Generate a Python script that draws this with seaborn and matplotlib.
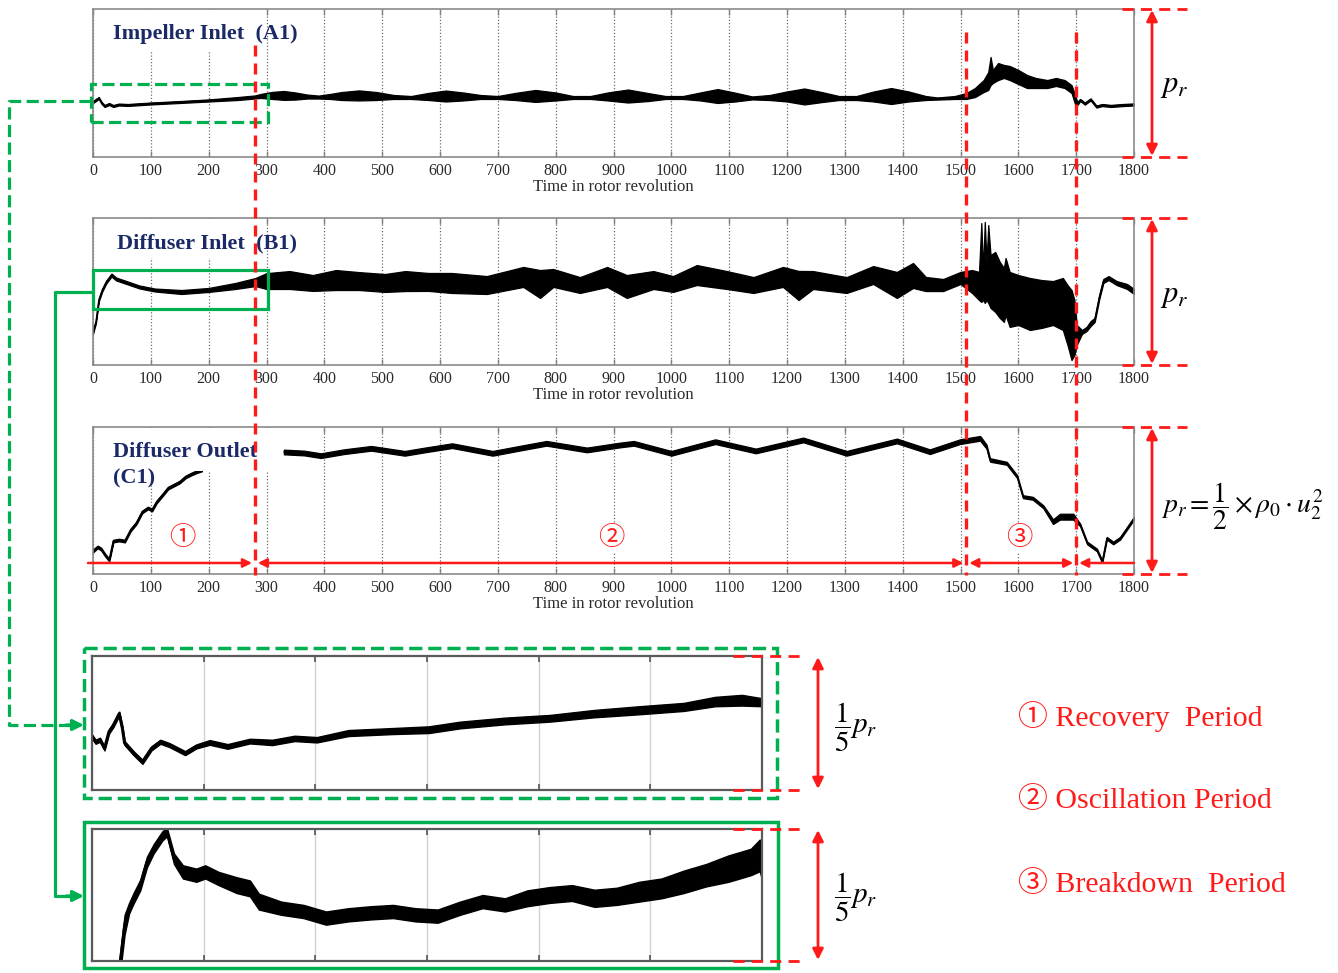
import numpy as np
import matplotlib
matplotlib.use("Agg")
import matplotlib.pyplot as plt
import matplotlib.transforms as mtransforms
from matplotlib.patches import Rectangle, FancyArrowPatch
from matplotlib.lines import Line2D
import seaborn as sns

# ---------------------------------------------------------------------------
# Pressure traces (values in % of the reference pressure p_r),
# time in rotor revolutions.
# ---------------------------------------------------------------------------

# Impeller inlet (A1): lower / upper envelope of the fluctuating signal
a_t = [0, 5, 10, 15, 20, 28, 35, 45, 60, 100, 150, 200, 250, 280, 290, 310, 330, 350,
       370, 390, 410, 430, 460, 490, 520, 550, 580, 610, 640, 670, 700, 730, 765, 800,
       830, 860, 890, 925, 960, 990, 1020, 1050, 1080, 1110, 1140, 1170, 1200, 1230,
       1260, 1290, 1320, 1350, 1380, 1410, 1440, 1460, 1490, 1510, 1525, 1540, 1548,
       1552, 1556, 1565, 1575, 1585, 1600, 1615, 1630, 1650, 1665, 1680, 1692, 1698,
       1702, 1707, 1715, 1725, 1735, 1745, 1760, 1780, 1800]
a_lo = [36.5, 37.8, 39.2, 35.8, 33.8, 35.1, 33.8, 34.8, 34.5, 35.5, 36.5, 37.5, 38.5,
        39.5, 39.9, 39.2, 38.6, 38.8, 39.5, 39.5, 39.2, 38.5, 38.2, 38.5, 39.2, 39.2,
        38.5, 37.5, 38.2, 39.2, 39.2, 38.5, 37.2, 38.2, 39.2, 39.2, 38.2, 36.8, 37.8,
        39.2, 39.2, 38.2, 36.5, 37.5, 38.9, 38.5, 37.5, 35.5, 37.1, 38.5, 38.5, 37.5,
        35.8, 37.5, 38.5, 38.8, 39.2, 39.2, 40.5, 43.9, 45.3, 48.6, 50.0, 52.0, 53.4,
        52.0, 49.3, 46.6, 46.6, 46.6, 48.0, 46.6, 43.2, 35.8, 35.1, 37.8, 35.4, 38.2,
        33.4, 34.4, 33.8, 34.4, 34.8]
a_hi = [37.8, 39.2, 40.5, 37.2, 35.1, 36.5, 35.1, 36.1, 35.8, 36.8, 37.8, 38.9, 40.5,
        41.6, 42.6, 44.0, 44.6, 43.6, 42.2, 41.5, 42.6, 43.9, 45.0, 43.9, 41.9, 41.2,
        43.3, 44.9, 43.6, 41.9, 41.2, 43.3, 45.3, 43.6, 41.2, 41.2, 43.6, 45.6, 43.2,
        41.2, 41.2, 43.6, 45.9, 43.5, 40.9, 41.9, 44.3, 46.3, 43.9, 41.2, 41.2, 44.3,
        46.6, 44.3, 41.2, 40.2, 41.2, 43.2, 46.6, 52.0, 57.4, 67.6, 58.8, 63.5, 62.2,
        61.5, 58.8, 55.4, 53.4, 52.0, 53.4, 52.0, 48.6, 41.9, 37.2, 39.2, 36.8, 39.6,
        34.8, 35.8, 35.2, 35.8, 36.2]

# Diffuser inlet (B1): lower / upper envelope
b_t = [0, 5, 10, 16, 23, 32, 40, 55, 80, 107, 153, 200, 246, 281, 300, 340, 380, 420,
       460, 505, 540, 580, 620, 681, 744, 773, 796, 842, 889, 923, 969, 1003, 1044,
       1096, 1142, 1193, 1220, 1245, 1303, 1349, 1390, 1418, 1440, 1470, 1500, 1520,
       1532, 1536, 1539, 1542, 1545, 1548, 1552, 1560, 1568, 1575, 1578, 1585, 1600,
       1620, 1640, 1660, 1677, 1685, 1692, 1697, 1701, 1710, 1718, 1725, 1732, 1740,
       1747, 1756, 1770, 1788, 1800]
b_lo = [21.4, 28.3, 43.2, 50.0, 55.5, 60.2, 57.5, 55.5, 52.1, 50.0, 48.3, 49.7, 51.7,
        53.7, 51.7, 51.7, 50.4, 51.0, 51.0, 49.7, 50.3, 50.4, 49.0, 48.3, 53.1, 45.6,
        53.1, 49.0, 53.1, 45.6, 51.7, 49.7, 54.4, 51.7, 49.0, 53.1, 44.2, 51.7, 49.0,
        55.1, 45.6, 52.4, 50.3, 50.3, 55.1, 49.0, 44.2, 42.9, 44.2, 42.2, 44.2, 42.2,
        38.8, 36.1, 32.0, 29.3, 34.0, 25.9, 27.2, 23.8, 25.2, 27.2, 23.8, 13.6, 3.4,
        6.8, 13.6, 21.1, 23.1, 26.5, 29.3, 44.9, 55.8, 57.8, 54.4, 51.7, 48.3]
b_hi = [23.5, 30.3, 45.2, 52.0, 57.5, 62.2, 59.5, 57.5, 54.1, 52.0, 51.0, 52.4, 55.8,
        59.2, 62.5, 63.9, 61.2, 64.6, 63.2, 61.9, 63.9, 62.6, 62.6, 60.5, 66.7, 64.6,
        65.3, 59.8, 66.7, 61.2, 63.9, 60.5, 68.0, 63.9, 59.8, 66.7, 64.0, 63.9, 59.8,
        67.3, 63.3, 69.4, 59.9, 58.5, 63.3, 64.6, 63.3, 96.6, 64.6, 97.3, 70.1, 95.2,
        74.8, 76.9, 70.1, 66.0, 72.8, 63.3, 61.2, 59.2, 57.8, 57.1, 59.2, 54.4, 51.0,
        44.2, 27.2, 23.8, 25.9, 29.9, 32.0, 47.6, 58.5, 60.5, 57.1, 55.1, 51.7]

# Diffuser outlet (C1): start-up record (envelope) and main record (mean, half-spread)
c1_t = [0, 8, 14, 21, 28, 35, 45, 55, 65, 75, 85, 95, 102, 110, 120, 130, 140, 150,
        160, 170, 180, 188]
c1_lo = [14.8, 17.6, 16.2, 12.1, 8.7, 21.6, 22.3, 21.6, 29.1, 33.9, 41.4, 44.1, 42.7,
         48.2, 52.9, 57.7, 59.7, 61.8, 65.2, 67.2, 68.9, 69.9]
c1_hi = [16.4, 19.2, 17.8, 13.7, 10.3, 23.2, 23.9, 23.2, 30.7, 35.5, 43.0, 45.7, 44.3,
         49.8, 54.5, 59.3, 61.3, 63.4, 66.8, 68.8, 70.5, 71.5]
c2_t = [330, 365, 394, 434, 481, 539, 574, 621, 691, 737, 784, 854, 912, 935, 1000,
        1076, 1146, 1228, 1303, 1390, 1447, 1499, 1534, 1545, 1551, 1580, 1598, 1608,
        1625, 1643, 1660, 1672, 1695, 1707, 1719, 1736, 1745, 1753, 1764, 1776, 1788,
        1800]
c2_mean = [83.0, 82.3, 80.5, 83.2, 85.5, 82.1, 84.4, 87.3, 82.1, 85.5, 88.9, 84.4, 87.8,
           88.9, 82.1, 90.0, 83.7, 91.2, 82.1, 90.5, 83.2, 90.0, 92.3, 86.6, 77.6, 75.3,
           66.2, 52.6, 51.5, 45.8, 35.6, 39.0, 39.0, 33.3, 21.1, 16.3, 8.4, 24.3, 21.1,
           24.3, 31.1, 37.9]
c2_spread = [1.6, 1.6, 1.6, 1.6, 1.6, 1.6, 1.6, 1.6, 1.6, 1.6, 1.6, 1.6, 1.6, 1.6, 1.6,
             1.6, 1.6, 1.6, 1.6, 1.6, 1.6, 1.6, 1.6, 1.4, 1.2, 1.0, 1.0, 1.0, 1.0, 1.0,
             1.6, 2.0, 2.0, 0.9, 0.9, 0.9, 0.9, 0.9, 0.9, 0.9, 0.9, 0.9]

# Enlarged first 300 revolutions (mean and half-spread)
za_t = [0, 1.6, 3.6, 5.6, 7.6, 9.6, 12.2, 13.6, 14.6, 18.6, 22.6, 26.6, 30.6, 34.7,
        41.7, 46.7, 52.7, 60.7, 70.7, 80.7, 90.7, 100.7, 114.8, 134.8, 150.8, 164.8,
        184.9, 204.9, 224.9, 245, 265, 279, 291, 300]
za_mean = [36.5, 35.7, 36.0, 34.7, 37.2, 38.2, 39.9, 37.7, 35.5, 34.0, 32.7, 34.7,
           35.7, 35.2, 34.0, 35.0, 35.6, 35.0, 35.8, 35.6, 36.2, 36.0, 37.0, 37.3,
           37.5, 38.2, 38.8, 39.2, 39.9, 40.4, 40.9, 41.7, 41.9, 41.6]
za_spread = [0.3, 0.3, 0.3, 0.3, 0.3, 0.3, 0.3, 0.3, 0.3, 0.3, 0.3, 0.3, 0.3, 0.3,
             0.3, 0.3, 0.35, 0.35, 0.35, 0.4, 0.4, 0.4, 0.45, 0.45, 0.5, 0.5, 0.5,
             0.5, 0.55, 0.6, 0.6, 0.7, 0.8, 0.6]

zb_t = [12, 14.6, 16.6, 18.6, 21.6, 24.6, 27.6, 31.6, 33.6, 36.7, 40.7, 46.7, 50.7,
        56.7, 64.7, 70.7, 74.7, 84.7, 94.7, 104.8, 114.8, 124.8, 134.8, 144.8, 154.8,
        164.8, 174.9, 184.9, 194.9, 204.9, 214.9, 225, 235, 245, 255, 265, 275, 285,
        295, 299, 300]
zb_mean = [40.0, 47.5, 50.0, 51.5, 53.5, 57.0, 59.0, 61.0, 61.5, 57.5, 55.5, 55.0,
           55.5, 54.5, 53.5, 53.0, 51.0, 50.0, 49.5, 48.5, 49.0, 49.3, 49.5, 49.0,
           48.8, 50.0, 51.0, 50.5, 51.5, 52.0, 52.3, 51.5, 51.8, 52.5, 53.0, 54.0,
           55.0, 56.0, 57.0, 58.0, 56.0]
zb_spread = [1.5, 1.5, 0.8, 0.8, 0.8, 0.8, 0.7, 0.7, 0.6, 0.8, 1.0, 1.0, 1.0, 1.0,
             1.2, 1.2, 1.2, 1.0, 1.0, 1.0, 1.0, 1.0, 1.0, 1.0, 1.0, 1.0, 1.0, 1.0,
             1.2, 1.2, 1.2, 1.3, 1.3, 1.5, 1.5, 1.7, 1.7, 2.0, 2.0, 2.4, 1.7]

panel_titles = ["Impeller Inlet  (A1)", "Diffuser Inlet  (B1)", "Diffuser Outlet", "(C1)"]
period_bounds = [280, 1510, 1700]
period_marks = ["\u2460", "\u2461", "\u2462"]
period_mark_t = [155, 897, 1602]
period_names = ["Recovery  Period", "Oscillation Period", "Breakdown  Period"]
x_ticks = list(range(0, 1801, 100))
zoom_ticks = list(range(0, 301, 50))
zoom_window = (0, 300)

RED = "#ff1a1a"
GREEN = "#00b050"
NAVY = "#1b2a66"

sns.set_theme(style="white")
plt.rcParams["font.family"] = ["Liberation Serif", "Noto Sans CJK SC", "DejaVu Sans"]
plt.rcParams["mathtext.fontset"] = "stix"

W, H = 1338, 973
fig = plt.figure(figsize=(W / 100, H / 100), dpi=100)


def px_rect(left, top, right, bottom):
    return [left / W, 1 - bottom / H, (right - left) / W, (bottom - top) / H]


axA = fig.add_axes(px_rect(93, 9, 1134, 157))
axB = fig.add_axes(px_rect(93, 218, 1134, 365))
axC = fig.add_axes(px_rect(93, 427, 1134, 574))
axZ1 = fig.add_axes(px_rect(92, 656, 762, 790))
axZ2 = fig.add_axes(px_rect(92, 829, 762, 961))


def envelope(ax, t, lo, hi, lw=0.9):
    t = np.asarray(t, float)
    lo = np.asarray(lo, float)
    hi = np.asarray(hi, float)
    ax.fill_between(t, lo, hi, color="black", lw=lw, zorder=2)
    sns.lineplot(x=t, y=(lo + hi) / 2, ax=ax, color="black", lw=lw,
                 estimator=None, sort=False, zorder=2)


def style_main(ax):
    ax.set_xlim(0, 1800)
    ax.set_ylim(0, 100)
    ax.set_xticks(x_ticks)
    ax.set_yticks([])
    ax.set_axisbelow(True)
    ax.grid(False)
    ax.xaxis.grid(True, linestyle=(0, (1, 1.6)), color="#6e6e6e", lw=0.9)
    ax.tick_params(axis="x", direction="in", length=4, width=1, color="#808080",
                   top=True, bottom=True, labelsize=11.5, labelcolor="#2a2a2a", pad=4)
    for s in ax.spines.values():
        s.set_visible(True)
        s.set_color("#8a8a8a")
        s.set_linewidth(1.2)
    ax.set_xlabel("Time in rotor revolution", fontsize=12, color="#2a2a2a", labelpad=0)
    ax.set_ylabel("")


def style_zoom(ax, ylim):
    ax.set_xlim(*zoom_window)
    ax.set_ylim(*ylim)
    ax.set_xticks(zoom_ticks)
    ax.set_yticks([])
    ax.set_axisbelow(True)
    ax.grid(False)
    ax.xaxis.grid(True, color="#d2d2d2", lw=1.0, ls="-")
    ax.tick_params(axis="x", direction="in", length=4, width=1.2, color="#555555",
                   top=True, bottom=True, labelbottom=False)
    for s in ax.spines.values():
        s.set_visible(True)
        s.set_color("#5a5a5a")
        s.set_linewidth(1.6)
    ax.set_xlabel("")
    ax.set_ylabel("")


def mask(ax, x0, y0, x1, y1):
    ax.add_patch(Rectangle((x0, y0), x1 - x0, y1 - y0, transform=ax.transAxes,
                           fc="white", ec="none", zorder=3))


# main traces
envelope(axA, a_t, a_lo, a_hi)
envelope(axB, b_t, b_lo, b_hi)
envelope(axC, c1_t, c1_lo, c1_hi, lw=1.1)
c2m = np.asarray(c2_mean)
c2s = np.asarray(c2_spread)
envelope(axC, c2_t, c2m - c2s, c2m + c2s)
for ax in (axA, axB, axC):
    style_main(ax)

mask(axA, 0.0115, 0.71, 0.156, 0.99)
mask(axB, 0.0115, 0.73, 0.158, 0.99)
mask(axC, 0.007, 0.70, 0.182, 0.99)

title_kw = dict(fontsize=16, fontweight="bold", color=NAVY, ha="left", va="center", zorder=4)
axA.text(0.0192, 0.830, panel_titles[0], transform=axA.transAxes, **title_kw)
axB.text(0.023, 0.830, panel_titles[1], transform=axB.transAxes, **title_kw)
axC.text(0.0192, 0.830, panel_titles[2], transform=axC.transAxes, **title_kw)
axC.text(0.0192, 0.653, panel_titles[3], transform=axC.transAxes, **title_kw)

# zoom windows in A1 and B1
axA.add_patch(Rectangle((zoom_window[0] - 3.5, 23.6), zoom_window[1] - zoom_window[0] + 6.1, 25.7,
                        fill=False, ec=GREEN, lw=2.3, ls=(0, (3.8, 1.7)), clip_on=False, zorder=5))
axB.add_patch(Rectangle((zoom_window[0], 38.1), zoom_window[1] - zoom_window[0] + 2.6, 26.5,
                        fill=False, ec=GREEN, lw=2.3, clip_on=False, zorder=5))

# period arrows along the bottom of C1
yv = 7.5
arrow_kw = dict(color=RED, lw=1.8, shrinkA=0, shrinkB=0, mutation_scale=13)
edges = [-8.6] + period_bounds + [1800]
for i in range(len(edges) - 1):
    x0, x1 = edges[i], edges[i + 1]
    left_head = i > 0
    right_head = i < len(edges) - 2
    style = ("<|-|>" if left_head and right_head else "-|>" if right_head else "<|-")
    axC.annotate("", xy=(x1 - 5 if right_head else x1, yv),
                 xytext=(x0 + 5 if left_head else x0, yv),
                 arrowprops=dict(arrowstyle=style, **arrow_kw),
                 annotation_clip=False, zorder=6)
for mark, t in zip(period_marks, period_mark_t):
    axC.text(t, 24.5, mark, fontsize=19, color=RED, ha="center", va="center",
             family=["Noto Sans CJK SC"], zorder=4,
             bbox=dict(fc="white", ec="none", pad=0.5))

# enlarged records
for ax, t, m, s, ylim, lw in ((axZ1, za_t, za_mean, za_spread, (28.5, 48.5), 2.2),
                              (axZ2, zb_t, zb_mean, zb_spread, (42, 62), 2.0)):
    t = np.asarray(t, float)
    m = np.asarray(m, float)
    s = np.asarray(s, float)
    ax.fill_between(t, m - s, m + s, color="black", lw=1.0, zorder=2)
    sns.lineplot(x=t, y=m, ax=ax, color="black", lw=lw, estimator=None, sort=False, zorder=2)
    style_zoom(ax, ylim)

# ---------------- figure-level annotations (pixel coordinates) ----------------
ov = fig.add_axes([0, 0, 1, 1], zorder=10)
ov.set_xlim(0, W)
ov.set_ylim(H, 0)
ov.axis("off")

blend = mtransforms.blended_transform_factory(axA.transData, ov.transData)
for t, ytop in zip(period_bounds, [45, 32, 32]):
    ov.add_line(Line2D([t, t], [ytop, 575], transform=blend, color=RED, lw=2.4,
                       ls=(0, (3.3, 2.1))))


def scale_bar(x_dash0, x_dash1, x_arrow, top, bottom):
    for y in (top, bottom):
        ov.plot([x_dash0, x_dash1], [y, y], color=RED, lw=2.0, ls=(0, (4, 2.6)))
    ov.add_patch(FancyArrowPatch((x_arrow, top + 1), (x_arrow, bottom - 1), arrowstyle="<|-|>",
                                 mutation_scale=16, color=RED, lw=2.0, shrinkA=0, shrinkB=0))


for top, bottom in [(9, 157), (218, 365), (427, 574)]:
    scale_bar(1122, 1187, 1152, top, bottom)
for top, bottom in [(656, 790), (829, 961)]:
    scale_bar(733, 805, 818, top, bottom)

ov.text(1160, 86, r"$p_r$", fontsize=22, color="black", ha="left", va="center")
ov.text(1160, 296, r"$p_r$", fontsize=22, color="black", ha="left", va="center")
ov.text(1161, 506, r"$p_r=\dfrac{1}{2}\times\rho_0\cdot u_2^2$", fontsize=20,
        color="black", ha="left", va="center")
ov.text(834, 727, r"$\dfrac{1}{5}p_r$", fontsize=21, color="black", ha="left", va="center")
ov.text(834, 897, r"$\dfrac{1}{5}p_r$", fontsize=21, color="black", ha="left", va="center")

# connectors from the zoom windows to the enlarged records
dash = (0, (3.8, 1.7))
ov.plot([91, 9, 9, 70], [101, 101, 725, 725], color=GREEN, lw=2.3, ls=dash)
ov.plot([93, 55, 55, 70], [292, 292, 896, 896], color=GREEN, lw=2.3)
for y in (725, 896):
    ov.annotate("", xy=(84, y), xytext=(66, y),
                arrowprops=dict(arrowstyle="-|>", color=GREEN, lw=2.3, mutation_scale=16,
                                shrinkA=0, shrinkB=0))
ov.add_patch(Rectangle((84, 648), 693, 150, fill=False, ec=GREEN, lw=2.5, ls=dash))
ov.add_patch(Rectangle((84, 822), 694, 146, fill=False, ec=GREEN, lw=2.5))

# period legend
for mark, name, y in zip(period_marks, period_names, [717, 801, 884]):
    ov.text(1018, y, f"{mark} {name}", fontsize=21.5, color=RED, ha="left", va="center")

fig.savefig("out.png", dpi=100)
